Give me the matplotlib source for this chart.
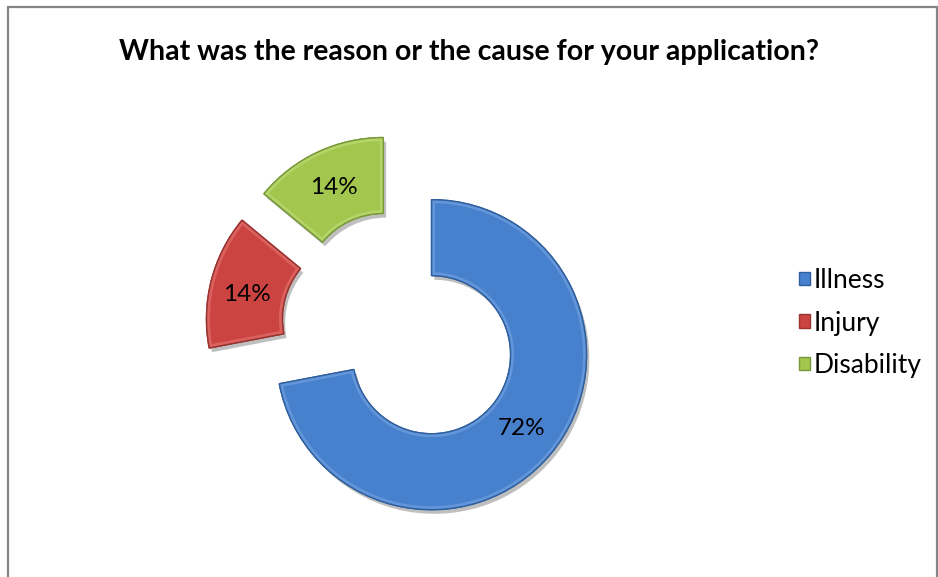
import matplotlib
matplotlib.use("Agg")
import matplotlib.pyplot as plt
import matplotlib.patheffects as pe
from matplotlib.patches import Rectangle, Wedge

# Survey answers (share of respondents, %)
categories = ["Illness", "Injury", "Disability"]
shares = [72, 14, 14]
colors = ["#4780CC", "#CC4442", "#A2C64E"]
edge_colors = ["#2F5F9E", "#983330", "#789A38"]
bevel_colors = ["#7AA8E4", "#E77A76", "#C4E07E"]
title = "What was the reason or the cause for your application?"

W, H, DPI = 938, 577, 100
fig = plt.figure(figsize=(W / DPI, H / DPI), dpi=DPI)
fig.patch.set_facecolor("white")

font = "Lato"

ax = fig.add_axes([0, 0, 1, 1])
wedges, texts, autotexts = ax.pie(
    shares,
    colors=colors,
    startangle=90,
    counterclock=False,
    explode=[0.26] * len(shares),
    radius=1.0,
    pctdistance=0.75,
    autopct=lambda p: f"{p:.0f}%",
    wedgeprops=dict(width=0.49, linewidth=1.0),
    textprops=dict(fontsize=17.5, family=font, color="black"),
)
for w, ec, bc in zip(wedges, edge_colors, bevel_colors):
    w.set_edgecolor(ec)
    w.set_path_effects([
        pe.SimplePatchShadow(offset=(2, -3), shadow_rgbFace="black", alpha=0.25),
        pe.Normal(),
    ])
    # light rim just inside the outline, giving a soft bevelled look
    rim = Wedge(w.center, w.r, w.theta1, w.theta2, width=w.width,
                facecolor="none", edgecolor=bc, linewidth=5, alpha=0.55,
                zorder=w.get_zorder() + 0.1)
    ax.add_patch(rim)
    rim.set_clip_path(w)
    outline = Wedge(w.center, w.r, w.theta1, w.theta2, width=w.width,
                    facecolor="none", edgecolor=ec, linewidth=1.0,
                    zorder=w.get_zorder() + 0.2)
    ax.add_patch(outline)
for t in autotexts:
    t.set_zorder(5)
# the Injury label sits a touch lower inside its slice
x, y = autotexts[1].get_position()
autotexts[1].set_position((x - 0.01, y - 0.028))

# 1 data unit = 155 px; ring centre at (400.5, 329) px from top-left
scale = 155.0
cx, cy = 400.5, 329.0
ax.set_xlim(-cx / scale, (W - cx) / scale)
ax.set_ylim(-(H - cy) / scale, cy / scale)
ax.set_aspect("equal", adjustable="datalim")
ax.axis("off")

fig.text(0.5, 1 - 52 / H, title, ha="center", va="center",
         fontsize=20.5, fontweight="bold", family=font)

leg = fig.legend(
    wedges, categories,
    loc="center left", bbox_to_anchor=(799 / W, 1 - 323 / H),
    frameon=False, prop=dict(family=font, size=19),
    handlelength=0.42, handleheight=0.42, handletextpad=0.15,
    labelspacing=0.66, borderaxespad=0, borderpad=0,
)
for h in leg.legend_handles:
    h.set_path_effects([])

fig.patches.append(Rectangle((8 / W, -0.05), (937 - 8) / W, 1 - 7 / H + 0.05,
                             transform=fig.transFigure, fill=False,
                             edgecolor="#868686", linewidth=1.6))

fig.savefig("out.png", dpi=DPI)
